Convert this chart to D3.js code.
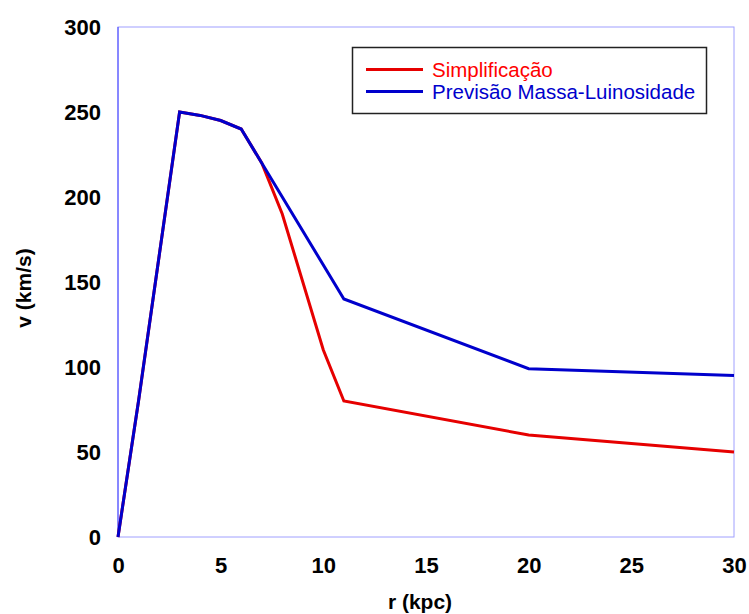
<!DOCTYPE html>
<html>
<head>
<meta charset="utf-8">
<script src="https://cdn.jsdelivr.net/npm/d3@7"></script>
<style>
  html, body { margin: 0; padding: 0; background: #fff; }
  svg { display: block; font-family: "Liberation Sans", Arial, sans-serif; }
</style>
</head>
<body>
<svg id="chart" width="749" height="614"></svg>
<script>
// Data
const rSimpl = [0, 1, 2, 3, 4, 5, 6, 7, 8, 10, 11, 20, 30];
const vSimpl = [0, 80, 165, 250, 248, 245, 240, 220, 190, 110, 80, 60, 50];
const rPrev = [0, 1, 2, 3, 4, 5, 6, 7, 11, 20, 30];
const vPrev = [0, 80, 165, 250, 248, 245, 240, 220, 140, 99, 95];
const xTicks = [0, 5, 10, 15, 20, 25, 30];
const yTicks = [0, 50, 100, 150, 200, 250, 300];
const seriesNames = ["Simplificação", "Previsão Massa-Luinosidade"];
const seriesColors = ["#e60000", "#0000cc"];

const svg = d3.select("#chart");
const x = d3.scaleLinear().domain([0, 30]).range([118, 734]);
const y = d3.scaleLinear().domain([0, 300]).range([537, 27]);

// plot frame
svg.append("rect")
  .attr("x", x(0)).attr("y", y(300))
  .attr("width", x(30) - x(0)).attr("height", y(0) - y(300))
  .attr("fill", "none").attr("stroke", "#a0a0ff").attr("stroke-width", 1);
svg.append("line")
  .attr("x1", x(0)).attr("x2", x(0)).attr("y1", y(300)).attr("y2", y(0))
  .attr("stroke", "#4040ff").attr("stroke-width", 1);

// axes (labels only)
const xAxis = d3.axisBottom(x).tickValues(xTicks).tickSize(0).tickPadding(0);
const gx = svg.append("g").attr("transform", `translate(0, ${y(0)})`).call(xAxis);
gx.select(".domain").remove();
gx.selectAll("text")
  .attr("dy", null).attr("y", 36)
  .style("font-size", "22px").style("font-weight", "bold")
  .style("font-family", "'Liberation Sans', Arial, sans-serif").attr("fill", "#000");

const yAxis = d3.axisLeft(y).tickValues(yTicks).tickSize(0).tickPadding(0);
const gy = svg.append("g").attr("transform", `translate(101, 0)`).call(yAxis);
gy.select(".domain").remove();
gy.selectAll("text")
  .attr("x", 0).attr("dy", "0.36em")
  .style("font-size", "22px").style("font-weight", "bold")
  .style("font-family", "'Liberation Sans', Arial, sans-serif").attr("fill", "#000");

// axis titles
svg.append("text")
  .attr("x", 420).attr("y", 609)
  .attr("text-anchor", "middle")
  .style("font-size", "21px").style("font-weight", "bold")
  .text("r (kpc)");
svg.append("text")
  .attr("transform", "translate(31, 288) rotate(-90)")
  .attr("text-anchor", "middle")
  .style("font-size", "21px").style("font-weight", "bold")
  .text("v (km/s)");

// lines
const line = d3.line().x(d => x(d[0])).y(d => y(d[1]));
const dataS = rSimpl.map((r, i) => [r, vSimpl[i]]);
const dataP = rPrev.map((r, i) => [r, vPrev[i]]);
svg.append("path").datum(dataS)
  .attr("d", line).attr("fill", "none")
  .attr("stroke", seriesColors[0]).attr("stroke-width", 3)
  .attr("stroke-linejoin", "miter");
svg.append("path").datum(dataP)
  .attr("d", line).attr("fill", "none")
  .attr("stroke", seriesColors[1]).attr("stroke-width", 3)
  .attr("stroke-linejoin", "miter");

// legend
const lg = svg.append("g");
lg.append("rect")
  .attr("x", 352.5).attr("y", 47.5).attr("width", 354).attr("height", 66)
  .attr("fill", "#fff").attr("stroke", "#222").attr("stroke-width", 1.5);
const rowsY = [69.5, 91.5];
seriesNames.forEach((name, i) => {
  lg.append("line")
    .attr("x1", 366).attr("x2", 423).attr("y1", rowsY[i]).attr("y2", rowsY[i])
    .attr("stroke", seriesColors[i]).attr("stroke-width", 3);
  lg.append("text")
    .attr("x", 432).attr("y", rowsY[i] + 7)
    .style("font-size", "20.5px")
    .attr("fill", i === 0 ? "#ff0000" : "#0000cc")
    .text(name);
});
</script>
</body>
</html>
